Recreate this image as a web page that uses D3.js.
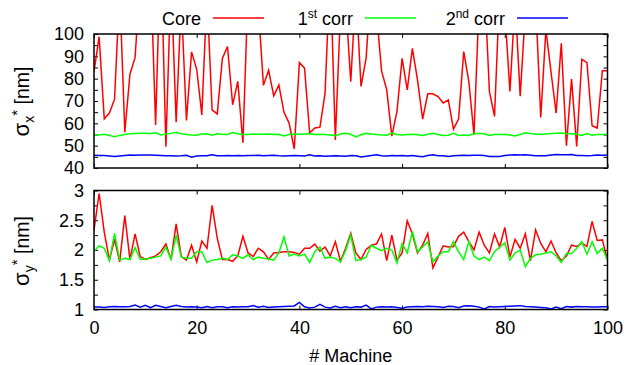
<!DOCTYPE html>
<html>
<head>
<meta charset="utf-8">
<script src="https://cdn.jsdelivr.net/npm/d3@7"></script>
<style>
  html, body { margin: 0; padding: 0; background: #fff; }
  svg { display: block; font-family: "Liberation Sans", Arial, Helvetica, sans-serif; }
</style>
</head>
<body>
<svg id="chart" width="629" height="365"></svg>
<script>
// sigma_x* per machine (top panel), index = machine number 0..100
const coreX = [83.2, 98.8, 62, 64.6, 70.8, 120, 56, 82, 89.4, 125,
  108, 130, 59.3, 140, 49.5, 125, 60.5, 115, 61.3, 92,
  84.2, 63.8, 118, 66, 64.2, 89.1, 94.4, 68.3, 78.8, 51.3,
  120, 135, 112, 77, 83.8, 72.3, 77.2, 64.9, 60.1, 48.5,
  87.2, 84.7, 55.7, 57.9, 58.3, 73.5, 130, 52.6, 110, 115,
  78.6, 120, 76.5, 89.3, 125, 110, 83.5, 75.1, 54.3, 65.3,
  89.1, 75, 93.6, 79.5, 61.9, 73.2, 73.2, 72, 69.1, 70.5,
  57.4, 61.9, 92.1, 78.7, 54.9, 115, 125, 74.3, 63.1, 120,
  110, 74.3, 115, 72.2, 110, 125, 115, 62.6, 102, 83,
  64.6, 95.8, 50, 79.8, 49.7, 88.7, 87.2, 58.9, 57.9, 83.6,
  83.6];
const corr1X = [55.0, 54.8, 55.1, 54.6, 54.0, 54.6, 55.0, 55.3, 55.5, 55.6,
  55.6, 55.4, 55.8, 54.8, 55.2, 55.5, 56.0, 55.3, 55.0, 54.8,
  54.7, 55.2, 55.3, 54.7, 55.3, 55.1, 55.0, 55.9, 55.3, 55.0,
  55.0, 55.2, 55.1, 55.1, 55.2, 55.0, 55.1, 54.3, 55.0, 55.2,
  55.1, 55.2, 55.3, 55.0, 55.1, 55.0, 54.8, 54.5, 55.2, 55.6,
  55.1, 53.9, 54.9, 55.5, 55.2, 55.0, 54.8, 54.7, 55.6, 55.0,
  54.8, 55.0, 55.1, 54.9, 54.6, 55.1, 55.5, 55.0, 54.6, 54.7,
  55.5, 54.6, 54.8, 54.6, 55.4, 55.4, 55.3, 54.6, 55.0, 55.0,
  55.1, 54.8, 54.3, 55.0, 55.8, 55.4, 55.1, 55.1, 55.2, 55.4,
  55.6, 55.7, 55.3, 55.3, 55.1, 54.6, 55.4, 54.7, 55.0, 55.0,
  55.1];
const corr2X = [45.7, 45.6, 45.6, 45.4, 45.2, 45.4, 45.6, 45.8, 45.7, 45.8,
  45.8, 45.8, 45.7, 45.6, 45.5, 45.5, 45.4, 45.5, 45.7, 44.8,
  45.4, 45.5, 45.5, 45.9, 45.5, 45.5, 45.6, 45.5, 45.6, 45.5,
  45.6, 45.6, 45.7, 45.5, 45.6, 45.7, 45.5, 45.4, 45.5, 45.6,
  45.5, 45.4, 45.9, 45.4, 45.5, 45.3, 45.4, 45.5, 45.4, 45.3,
  45.6, 45.5, 44.9, 45.3, 45.6, 45.9, 45.5, 45.4, 45.6, 45.5,
  45.6, 45.4, 45.6, 45.3, 45.0, 45.6, 45.9, 45.5, 45.5, 45.2,
  45.5, 45.6, 45.7, 45.6, 45.7, 45.7, 45.6, 45.2, 45.1, 45.2,
  45.6, 45.8, 45.9, 45.8, 45.9, 45.7, 45.5, 45.5, 45.5, 45.8,
  46.0, 45.9, 45.9, 46.0, 45.6, 45.6, 45.5, 45.6, 45.8, 45.7,
  45.8];

// sigma_y* per machine (bottom panel)
const coreY = [2.34, 2.95, 2.3, 1.83, 2.18, 1.8, 2.58, 1.84, 2.27, 1.89,
  1.84, 1.87, 1.9, 1.97, 2.1, 1.84, 2.44, 1.89, 1.83, 2.08,
  1.8, 2.15, 2.03, 2.75, 2.2, 1.84, 1.84, 1.81, 1.9, 2.23,
  1.95, 1.89, 2.03, 1.97, 1.84, 1.95, 1.96, 1.97, 1.97, 1.96,
  1.93, 2.03, 2.03, 2.1, 1.98, 2.05, 1.9, 2.14, 1.81, 2.03,
  2.28, 1.95, 1.84, 2.01, 2.08, 2.1, 2.27, 1.82, 2.25, 1.83,
  1.95, 2.49, 2.27, 1.95, 2.08, 2.28, 1.7, 1.88, 2.07, 2.05,
  2.06, 2.23, 2.3, 2.14, 2.0, 2.3, 2.08, 1.95, 2.27, 2.05,
  2.38, 1.88, 2.18, 2.03, 2.27, 1.82, 2.34, 2.11, 1.97, 2.15,
  1.95, 1.82, 1.9, 2.08, 2.06, 2.11, 2.06, 2.48, 2.16, 2.17,
  1.83];
const corr1Y = [1.98, 2.07, 2.03, 1.82, 2.28, 1.83, 1.86, 1.84, 2.04, 1.84,
  1.85, 1.86, 1.88, 1.9, 2.05, 1.84, 2.25, 1.88, 1.86, 1.86,
  1.97, 1.97, 1.79, 1.83, 1.84, 1.86, 1.84, 1.92, 1.9, 1.86,
  1.92, 1.84, 1.88, 1.86, 1.85, 1.83, 1.95, 2.22, 1.9, 1.93,
  1.9, 1.93, 1.79, 1.97, 2.05, 1.86, 1.88, 1.86, 1.8, 1.99,
  2.25, 1.82, 1.84, 1.88, 2.08, 2.03, 1.99, 2.03, 2.0, 1.78,
  2.11, 1.95, 2.31, 1.97, 2.05, 2.14, 1.8, 1.9, 1.97, 1.97,
  2.14, 1.97, 1.84, 2.14, 1.9, 1.84, 1.88, 1.82, 1.97, 2.05,
  2.12, 1.83, 1.95, 2.0, 1.72, 1.86, 1.92, 1.93, 1.95, 1.97,
  1.9, 1.79, 1.94, 1.94, 2.03, 2.14, 1.93, 2.14, 1.94, 2.03,
  1.83];
const corr2Y = [1.04, 1.04, 1.035, 1.045, 1.05, 1.045, 1.045, 1.05, 1.075, 1.04,
  1.07, 1.03, 1.07, 1.05, 1.03, 1.05, 1.07, 1.05, 1.04, 1.045,
  1.04, 1.03, 1.05, 1.03, 1.045, 1.045, 1.03, 1.045, 1.04, 1.045,
  1.045, 1.065, 1.04, 1.055, 1.035, 1.04, 1.045, 1.05, 1.055, 1.06,
  1.12, 1.045, 1.025, 1.04, 1.085, 1.04, 1.025, 1.055, 1.03, 1.045,
  1.03, 1.045, 1.04, 1.075, 1.01, 1.04, 1.045, 1.04, 1.045, 1.035,
  1.02, 1.04, 1.045, 1.05, 1.045, 1.055, 1.05, 1.045, 1.035, 1.055,
  1.05, 1.03, 1.06, 1.065, 1.055, 1.04, 1.01, 1.05, 1.04, 1.045,
  1.05, 1.055, 1.06, 1.065, 1.05, 1.045, 1.04, 1.035, 1.03, 1.01,
  1.04, 1.015, 1.05, 1.04, 1.05, 1.045, 1.045, 1.04, 1.04, 1.045,
  1.045];

const xTicks = [0, 20, 40, 60, 80, 100];
const topLabels = [40, 50, 60, 70, 80, 90, 100];
const topTicks = [40, 45, 50, 55, 60, 65, 70, 75, 80, 85, 90, 95, 100];
const botLabels = [1, 1.5, 2, 2.5, 3];
const botTicks = [1, 1.25, 1.5, 1.75, 2, 2.25, 2.5, 2.75, 3];
const colors = ['#ff0000', '#00ff00', '#0000ff'];

const svg = d3.select('#chart');
const x = d3.scaleLinear().domain([0, 100]).range([94, 607.5]);
const yTop = d3.scaleLinear().domain([40, 100]).range([168, 34]);
const yBot = d3.scaleLinear().domain([1, 3]).range([309.5, 190.5]);

function styleAxis(g) {
  g.select('.domain').remove();
  g.attr('font-family', null).attr('font-size', 18);
  g.selectAll('line').attr('stroke', '#000').attr('stroke-width', 1);
  g.selectAll('text').attr('fill', '#000');
}

function panel(id, y, series, ticks, labels, showX) {
  const [x0, x1] = x.range();
  const [yb, yt] = y.range();

  svg.append('clipPath').attr('id', id)
    .append('rect').attr('x', x0).attr('y', yt).attr('width', x1 - x0).attr('height', yb - yt);

  svg.append('g').attr('transform', `translate(${x0},0)`)
    .call(d3.axisLeft(y).tickValues(ticks).tickSize(-4).tickPadding(10)
      .tickFormat(d => labels.includes(d) ? String(d) : ''))
    .call(styleAxis);
  svg.append('g').attr('transform', `translate(${x1},0)`)
    .call(d3.axisRight(y).tickValues(ticks).tickSize(-4).tickFormat(''))
    .call(styleAxis);
  svg.append('g').attr('transform', `translate(0,${yb})`)
    .call(d3.axisBottom(x).tickValues(xTicks).tickSize(-4).tickPadding(12)
      .tickFormat(d => showX ? String(d) : ''))
    .call(styleAxis);
  svg.append('g').attr('transform', `translate(0,${yt})`)
    .call(d3.axisTop(x).tickValues(xTicks).tickSize(-4).tickFormat(''))
    .call(styleAxis);

  const line = d3.line().x((d, i) => x(i)).y(d => y(d));
  const g = svg.append('g').attr('clip-path', `url(#${id})`);
  series.forEach((s, k) => {
    g.append('path').datum(s)
      .attr('fill', 'none')
      .attr('stroke', colors[k])
      .attr('stroke-width', 1.5)
      .attr('d', line);
  });

  svg.append('rect')
    .attr('x', x0).attr('y', yt).attr('width', x1 - x0).attr('height', yb - yt)
    .attr('fill', 'none').attr('stroke', '#000').attr('stroke-width', 1.5);
}

panel('clipTop', yTop, [coreX, corr1X, corr2X], topTicks, topLabels, false);
panel('clipBot', yBot, [coreY, corr1Y, corr2Y], botTicks, botLabels, true);

// legend
const legend = [
  { end: 201, base: '', sup: '', rest: 'Core', l0: 213, l1: 264 },
  { end: 353, base: '1', sup: 'st', rest: ' corr', l0: 365, l1: 416 },
  { end: 505, base: '2', sup: 'nd', rest: ' corr', l0: 517, l1: 568 }
];
legend.forEach((d, k) => {
  const t = svg.append('text')
    .attr('x', d.end).attr('y', 25)
    .attr('text-anchor', 'end')
    .attr('font-size', 18)
    .attr('fill', '#000');
  if (d.base) {
    t.append('tspan').text(d.base);
    t.append('tspan').attr('font-size', 12).attr('dy', -7).text(d.sup);
    t.append('tspan').attr('dy', 7).text(d.rest);
  } else {
    t.text(d.rest);
  }
  svg.append('line')
    .attr('x1', d.l0).attr('x2', d.l1).attr('y1', 18).attr('y2', 18)
    .attr('stroke', colors[k]).attr('stroke-width', 1.5);
});

// axis titles
function yTitle(cx, cy, sub) {
  const t = svg.append('text')
    .attr('transform', `translate(${cx},${cy}) rotate(-90)`)
    .attr('text-anchor', 'middle')
    .attr('font-size', 19.5)
    .attr('fill', '#000');
  t.append('tspan').attr('font-size', 22).text('σ');
  t.append('tspan').attr('font-size', 14).attr('dy', 5).text(sub);
  t.append('tspan').attr('font-size', 15).attr('dy', -12).text('*');
  t.append('tspan').attr('dy', 7).text(' [nm]');
}
yTitle(29, 101.5, 'x');
yTitle(29, 251, 'y');

svg.append('text')
  .attr('x', 350.7).attr('y', 362)
  .attr('text-anchor', 'middle')
  .attr('font-size', 18)
  .attr('fill', '#000')
  .text('# Machine');
</script>
</body>
</html>
